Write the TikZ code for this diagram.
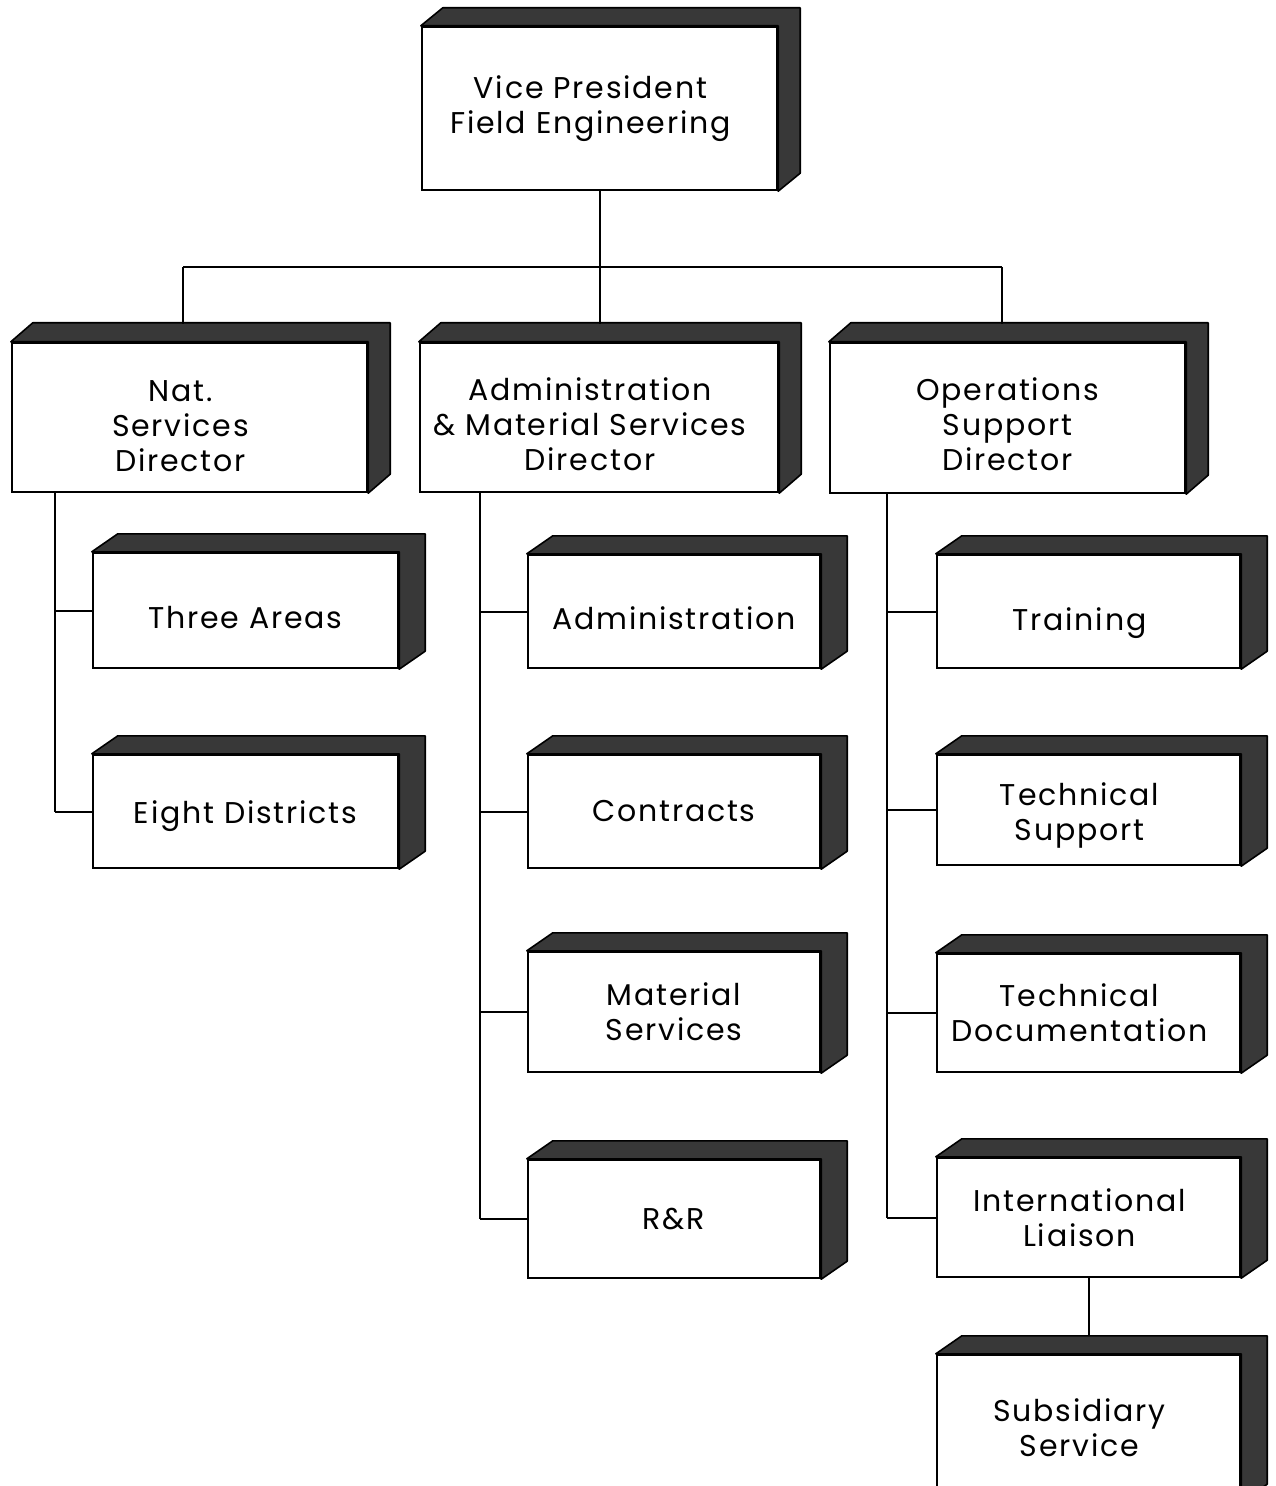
\documentclass[tikz,border=0pt]{standalone}
\usepackage{fontspec}
\setmainfont{Poppins}[LetterSpace=6]
\usetikzlibrary{calc}
\tikzset{
  orgbox/.style={draw=black, line width=1.2pt, fill=white, align=center, inner sep=0pt,
    font=\fontsize{15}{17.5}\selectfont},
  link/.style={draw=black, line width=1pt},
  face/.style={fill=black!78, draw=black, line width=0.8pt, line join=round},
}
\newcommand\orgnode[6]{%
  \node[orgbox, minimum width=#4*0.5pt, minimum height=#5*0.5pt] (#1) at (#2,#3) {#6};}
\newcommand\extrude[3]{%
  \filldraw[face] (#1.north west) -- ++(#2,-#3) -- ($(#1.north east)+(#2,-#3)$)
    -- ($(#1.south east)+(#2,-#3)$) -- (#1.south east) -- (#1.north east) -- cycle;}
\newcommand\sh{\rule{9pt}{0pt}}
\newcommand\up[1]{\rule{0pt}{#1}}
\begin{document}
\begin{tikzpicture}[x=0.5pt, y=-0.5pt]
\path[use as bounding box, fill=white] (0,0) rectangle (1275,1486);
\clip (0,0) rectangle (1275,1486);

% top level
\orgnode{vp}{599.5}{108.5}{355}{163}{Vice President\sh\\Field Engineering\sh}
\orgnode{nat}{189.5}{417.5}{355}{149}{\up{19pt}Nat.\sh\\Services\sh\\Director\sh}
\orgnode{adm}{599}{417.5}{358}{149}{\up{18.5pt}Administration\sh\\\& Material Services\sh\\Director\sh}
\orgnode{ops}{1007.5}{418}{355}{150}{\up{18pt}Operations\\Support\\Director}

% Nat. services
\orgnode{three}{245.5}{610.5}{305}{115}{\up{18.5pt}Three Areas}
\orgnode{eight}{245.5}{811.5}{305}{113}{\up{16.3pt}Eight Districts}

% Administration
\orgnode{admin}{674}{611.5}{292}{113}{\up{18.3pt}Administration}
\orgnode{contr}{674}{811.5}{292}{113}{Contracts}
\orgnode{matl}{674}{1012}{292}{120}{Material\\Services}
\orgnode{rr}{674}{1219}{292}{118}{R\&R}

% Operations
\orgnode{train}{1088.5}{611.5}{303}{113}{\up{23pt}Training\sh}
\orgnode{tsup}{1088.5}{810}{303}{110}{\up{17.3pt}Technical\sh\\Support\sh}
\orgnode{tdoc}{1088.5}{1013}{303}{118}{Technical\sh\\Documentation\sh}
\orgnode{intl}{1088.5}{1217.5}{303}{119}{International\sh\\Liaison\sh}
\orgnode{subs}{1088.5}{1428}{303}{146}{Subsidiary\sh\\Service\sh}

% 3D faces
\extrude{vp}{22}{18}
\extrude{nat}{22}{19}
\extrude{adm}{22}{19}
\extrude{ops}{22}{19}
\foreach \n in {three,eight,admin,contr,matl,rr,train,tsup,tdoc,intl,subs}{\extrude{\n}{26}{18}}

% connectors
\coordinate (bus) at (597,267);
\coordinate (busL) at (183,267);
\coordinate (busR) at (1002,267);
\draw[link] (vp.south) -- (vp.south |- bus);
\draw[link] (busL) -- (busR);
\draw[link] (busL) -- (busL |- 0,324);
\draw[link] (vp.south |- bus) -- (vp.south |- 0,324);
\draw[link] (busR) -- (busR |- 0,324);

\coordinate (natstem) at (55,0);
\coordinate (admstem) at (480,0);
\coordinate (opsstem) at (887,0);
\draw[link] (nat.south -| natstem) -- (eight.west -| natstem);
\foreach \n in {three,eight}{\draw[link] (\n.west -| natstem) -- (\n.west);}
\draw[link] (adm.south -| admstem) -- (rr.west -| admstem);
\foreach \n in {admin,contr,matl,rr}{\draw[link] (\n.west -| admstem) -- (\n.west);}
\draw[link] (ops.south -| opsstem) -- (intl.west -| opsstem);
\foreach \n in {train,tsup,tdoc,intl}{\draw[link] (\n.west -| opsstem) -- (\n.west);}
\draw[link] (intl.south) -- ($(subs.north)+(0,-18)$);
\end{tikzpicture}
\end{document}
